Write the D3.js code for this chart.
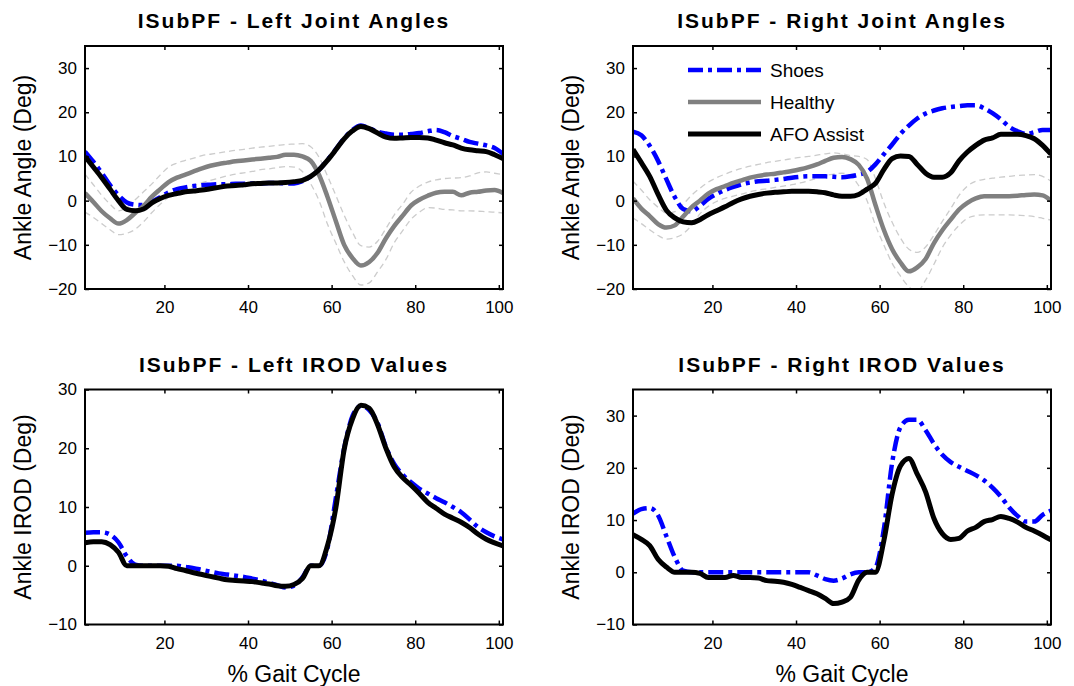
<!DOCTYPE html>
<html><head><meta charset="utf-8">
<script src="https://cdn.jsdelivr.net/npm/d3@7"></script>
<style>
body{margin:0;background:#fff}
svg{display:block}
text{font-family:"Liberation Sans",Arial,Helvetica,sans-serif;fill:#000}
</style>
</head><body>
<svg id="chart" width="1074" height="686"></svg>
<script>
// ---------- data ----------
const gaitPct = d3.range(1, 102, 2); // 1,3,...,101
const xTicks = [20, 40, 60, 80, 100];
const angleTicks = [-20, -10, 0, 10, 20, 30];
const leftIRODTicks = [-10, 0, 10, 20, 30];
const rightIRODTicks = [-10, 0, 10, 20, 30];
const legendLabels = ["Shoes", "Healthy", "AFO Assist"];
const panelTitles = ["ISubPF - Left Joint Angles", "ISubPF - Right Joint Angles", "ISubPF - Left IROD Values", "ISubPF - Right IROD Values"];

const leftAngleShoes = [11.1,8.8,6.3,3.5,1.2,-0.4,-0.9,-1,-0.2,0.8, 1.9,2.6,3,3.3,3.5,3.6,3.7,3.7,3.8,3.8, 3.9,3.9,4,4,3.9,3.9,4.4,5.5,7,9.2, 11.6,14.1,16,17,16.4,15.6,15.2,14.9,14.9,15.1, 15.3,15.7,16,15.5,14.6,14,13.3,12.9,12.5,11.9, 10.6];
const leftAngleHealthy = [1.7,-0.3,-2.4,-4,-5.2,-4.4,-2.8,-1.2,0.9,2.6, 4.2,5.2,5.9,6.6,7.3,7.9,8.3,8.6,8.9,9.1, 9.3,9.5,9.7,9.9,10.4,10.4,10,9,5.8,0.9, -4.6,-10,-13,-14.7,-13.9,-11.8,-8.5,-5.7,-3.4,-1.1, 0.2,1.1,1.8,2,2,1.2,1.8,2,2.3,2.4, 1.7];
const leftAngleHealthyUpper = [6,3.6,1.2,-0.8,-2.3,-1.5,0.2,2,3.8,5.8, 7.6,8.5,9.1,9.6,10.2,10.5,10.8,11.1,11.4,11.6, 11.9,12.1,12.3,12.5,12.7,12.8,12.9,12.2,9.8,5.6, 1.2,-3.3,-7.2,-10.2,-10.5,-9.2,-6.3,-3.2,-0.8,1.9, 3.3,4.2,4.7,5,5.1,5.2,5.6,6.3,6.5,6.2, 5.9];
const leftAngleHealthyLower = [-2.6,-3.8,-5.2,-6.6,-7.7,-7.4,-6.5,-4.8,-2.7,-0.8, 0.8,1.9,2.7,3.4,4.1,4.6,5.1,5.6,6,6.3, 6.6,7,7.2,7.5,7.7,7.6,6.6,3.8,0,-5.3, -9.6,-13.8,-17,-19.1,-18.6,-16.1,-13.3,-9.5,-6.8,-4.2, -2.6,-1.6,-1.7,-2,-2.1,-2.3,-2.3,-2.4,-2.5,-2.6, -2.8];
const leftAngleAFO = [10,7.6,5.2,2.6,0,-2,-2.3,-1.9,-0.5,0.5, 1.2,1.6,2,2.2,2.4,2.7,3,3.3,3.4,3.6, 3.8,3.9,4,4,4.1,4.3,4.6,5.5,7,9.1, 11.5,14,15.8,16.8,16.3,15.3,14.4,14.1,14.2,14.3, 14.3,14.2,13.7,13.1,12.6,11.9,11.5,11.3,11.1,10.4, 9.5];

const rightAngleShoes = [15.6,14.8,12.4,9,4.8,0.8,-1.9,-2.4,-1.2,0.4, 1.5,2.4,3.1,3.7,4.1,4.4,4.5,4.7,4.9,5.2, 5.4,5.5,5.5,5.5,5.4,5.3,5.5,5.9,6.5,8.2, 10.5,12.7,15.1,17,18.6,19.7,20.4,20.9,21.2,21.4, 21.6,21.6,20.9,19.8,18.4,16.7,15.7,15.1,15.5,16, 16];
const rightAngleHealthy = [0.5,-1.8,-3.5,-5.3,-6.1,-5.6,-3.6,-1.5,0,1.6, 2.6,3.3,4,4.6,5.2,5.6,5.9,6.1,6.4,6.7, 7.1,7.6,8.2,9,9.7,9.9,9.4,8.1,5,-1, -6.6,-11,-14,-16,-15.1,-13.2,-9.6,-6.7,-4.3,-2, -0.5,0.5,1,1,1,1,1.1,1.3,1.4,1.2, 0];
const rightAngleHealthyUpper = [4.4,2.4,0.2,-1.5,-2.8,-2.5,-0.8,1.2,2.8,4.2, 5.2,6,6.7,7.3,7.8,8.2,8.6,8.9,9.2,9.5, 9.8,10,10.3,10.6,10.8,10.6,10.2,10,9.3,5, -0.5,-4.9,-8.5,-11,-11.7,-10.5,-7.8,-4.7,-1.8,1.2, 3.3,4.4,4.8,5.1,5.3,5.5,5.7,5.8,5.9,5.5, 4.4];
const rightAngleHealthyLower = [-3.9,-5.2,-6.6,-7.9,-8.7,-8.4,-7.5,-5.6,-3,-1.3, -0.2,0.5,1,1.5,2,2.4,2.7,3,3.3,3.6, 4,4.5,5.1,5.7,6,6.2,5.7,3.4,0,-5.6, -10,-14.2,-17.1,-19.5,-20.5,-18,-14.4,-10.6,-7.8,-5.6, -4,-3.4,-3.2,-3.2,-3.2,-3.2,-3.3,-3.4,-3.6,-4, -4.4];
const rightAngleAFO = [11.6,8.6,5.5,1.4,-2.2,-3.9,-4.8,-5,-4.3,-3.2, -2.3,-1.4,-0.4,0.4,1,1.4,1.7,1.9,2,2.1, 2.1,2.1,2,1.8,1.3,1,1,1.4,2.6,3.9, 7,9.5,10.1,10,8.2,6.2,5.3,5.3,6.3,9, 11,12.5,13.7,14.2,15,15,15,14.7,14,12.5, 10.5];

const leftIRODShoes = [5.6,5.7,5.7,5.3,4,1.6,0.2,0,0,0, 0,0,-0.2,-0.4,-0.7,-1,-1.3,-1.5,-1.7,-1.9, -2.2,-2.5,-2.9,-3.3,-3.7,-3.4,-2,0,0,3, 11.5,20,25.5,27.2,26.5,24.3,20.2,17.3,15.5,14.2, 13.1,12.3,11.5,10.8,10,9.1,7.9,6.6,5.7,5, 4.5];
const leftIRODAFO = [3.9,4.1,4.1,3.6,2.3,0,0,0,0,0, -0.1,-0.5,-0.8,-1.2,-1.5,-1.8,-2.1,-2.4,-2.5,-2.6, -2.7,-2.9,-3.1,-3.4,-3.5,-3.2,-2.2,0,0,3.4, 9.8,19.8,25,27.3,26.8,24,20,16.8,15,13.7, 12.3,10.8,9.8,8.8,8.1,7.4,6.5,5.4,4.5,3.9, 3.4];

const rightIRODShoes = [11.2,12.1,12.3,10.9,6.9,2.9,0.3,0,0,0, 0,0,0,0,0,0,0,0,0,0, 0,0,-0.6,-1.3,-1.6,-1.2,-0.4,0,0,0.9, 8.2,21,27.8,29.2,29.2,27.2,24.6,22.5,21.1,20.2, 19.4,18.6,17.6,16.2,14.5,12.4,10.8,9.7,9.7,11, 11.8];
const rightIRODAFO = [7.2,6.3,5.1,2.5,1,0,0,0,-0.2,-1, -1,-1,-0.6,-1,-1,-1.1,-1.6,-1.7,-1.9,-2.3, -2.9,-3.5,-4.1,-5,-6,-5.7,-4.8,-1.5,0,0, 6,15,20.4,21.8,18.8,15.4,10.3,7.4,6.3,6.5, 7.9,8.6,9.7,10.1,10.7,10.3,9.6,8.6,7.9,7.1, 6.2];

// ---------- styles ----------
const styles = {
  shoes:   {stroke: "#0000ff", width: 4.5, dash: "15,5,4,5"},
  healthy: {stroke: "#808080", width: 4.5, dash: null},
  band:    {stroke: "#cccccc", width: 1.3, dash: "6,4"},
  afo:     {stroke: "#000000", width: 5, dash: null}
};

const panels = [
  {title: panelTitles[0], x: 85,  y: 46,    w: 418, h: 243, yDomain: [-20, 35], yTicks: angleTicks, ylabel: "Ankle Angle (Deg)", xlabel: null,
   series: [["band", leftAngleHealthyUpper], ["band", leftAngleHealthyLower], ["shoes", leftAngleShoes], ["healthy", leftAngleHealthy], ["afo", leftAngleAFO]]},
  {title: panelTitles[1], x: 633, y: 46,    w: 418, h: 243, yDomain: [-20, 35], yTicks: angleTicks, ylabel: "Ankle Angle (Deg)", xlabel: null, legend: true,
   series: [["band", rightAngleHealthyUpper], ["band", rightAngleHealthyLower], ["shoes", rightAngleShoes], ["healthy", rightAngleHealthy], ["afo", rightAngleAFO]]},
  {title: panelTitles[2], x: 85,  y: 389.5, w: 418, h: 235, yDomain: [-10, 30], yTicks: leftIRODTicks, ylabel: "Ankle IROD (Deg)", xlabel: "% Gait Cycle",
   series: [["shoes", leftIRODShoes], ["afo", leftIRODAFO]]},
  {title: panelTitles[3], x: 633, y: 389.5, w: 418, h: 235, yDomain: [-10, 35], yTicks: rightIRODTicks, ylabel: "Ankle IROD (Deg)", xlabel: "% Gait Cycle",
   series: [["shoes", rightIRODShoes], ["afo", rightIRODAFO]]}
];

const svg = d3.select("#chart");
const defs = svg.append("defs");

panels.forEach((p, i) => {
  const g = svg.append("g").attr("transform", `translate(${p.x},${p.y})`);
  const x = d3.scaleLinear().domain([1, 101]).range([0, p.w]);
  const y = d3.scaleLinear().domain(p.yDomain).range([p.h, 0]);

  defs.append("clipPath").attr("id", "clip" + i)
    .append("rect").attr("width", p.w).attr("height", p.h);

  const line = d3.line().x((d, k) => x(gaitPct[k])).y(d => y(d)).curve(d3.curveMonotoneX);

  const plot = g.append("g").attr("clip-path", `url(#clip${i})`);
  p.series.forEach(([key, vals]) => {
    const s = styles[key];
    plot.append("path").datum(vals)
      .attr("d", line)
      .attr("fill", "none")
      .attr("stroke", s.stroke)
      .attr("stroke-width", s.width)
      .attr("stroke-linejoin", "round")
      .attr("stroke-dasharray", s.dash);
  });

  // axes (ticks inward)
  const fs = "17px";
  const xb = g.append("g").attr("transform", `translate(0,${p.h})`)
    .call(d3.axisBottom(x).tickValues(xTicks).tickSize(-4).tickSizeOuter(0).tickPadding(12));
  const xt = g.append("g")
    .call(d3.axisTop(x).tickValues(xTicks).tickSize(-4).tickSizeOuter(0).tickFormat(""));
  const yl = g.append("g")
    .call(d3.axisLeft(y).tickValues(p.yTicks).tickSize(-4).tickSizeOuter(0).tickPadding(8));
  const yr = g.append("g").attr("transform", `translate(${p.w},0)`)
    .call(d3.axisRight(y).tickValues(p.yTicks).tickSize(-4).tickSizeOuter(0).tickFormat(""));
  [xb, xt, yl, yr].forEach(a => {
    a.select(".domain").remove();
    a.selectAll(".tick line").attr("stroke", "#000").attr("stroke-width", 1.5);
    a.selectAll("text").style("font-size", fs).attr("fill", "#000")
      .style("font-family", '"Liberation Sans",Arial,sans-serif');
  });

  g.append("rect").attr("width", p.w).attr("height", p.h)
    .attr("fill", "none").attr("stroke", "#000").attr("stroke-width", 2);

  // title
  g.append("text").attr("x", p.w / 2).attr("y", -18)
    .attr("text-anchor", "middle")
    .style("font-size", "21px").style("font-weight", "bold").style("letter-spacing", "2px")
    .text(p.title);

  // y label
  g.append("text")
    .attr("transform", `translate(-62,${p.h / 2}) rotate(-90)`)
    .attr("text-anchor", "middle").attr("dy", "0.35em")
    .style("font-size", "23px")
    .text(p.ylabel);

  if (p.xlabel) {
    g.append("text").attr("x", p.w / 2).attr("y", 682 - p.y)
      .attr("text-anchor", "middle")
      .style("font-size", "23px")
      .text(p.xlabel);
  }

  if (p.legend) {
    const keys = ["shoes", "healthy", "afo"];
    const lg = g.append("g").attr("transform", "translate(55,24)");
    keys.forEach((k, j) => {
      const s = styles[k];
      const row = lg.append("g").attr("transform", `translate(0,${j * 32})`);
      row.append("line").attr("x1", 0).attr("x2", 73).attr("y1", 0).attr("y2", 0)
        .attr("stroke", s.stroke).attr("stroke-width", s.width).attr("stroke-dasharray", s.dash);
      row.append("text").attr("x", 82).attr("dy", "0.35em")
        .style("font-size", "19px").text(legendLabels[j]);
    });
  }
});
</script>
</body></html>
